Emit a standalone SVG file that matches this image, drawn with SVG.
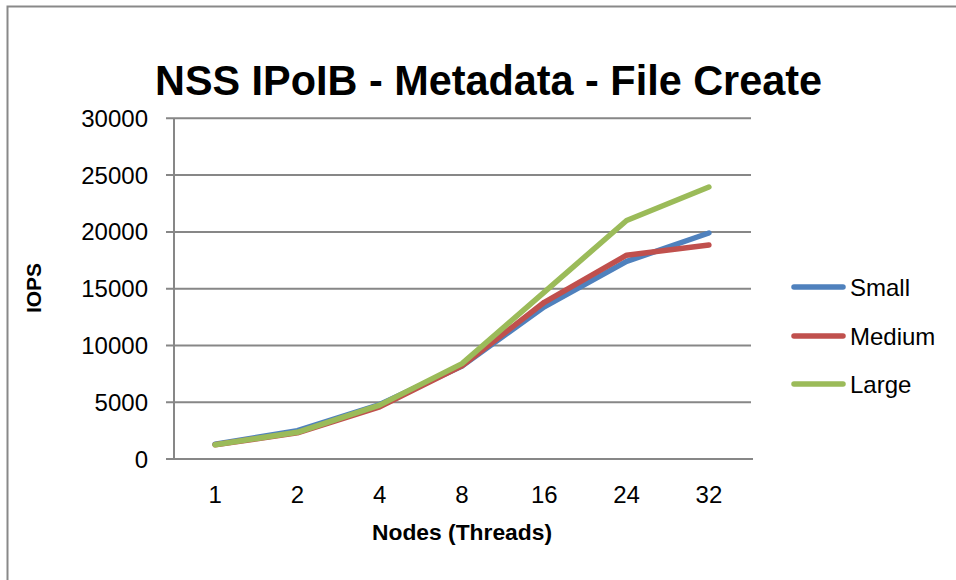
<svg xmlns="http://www.w3.org/2000/svg" width="956" height="580" viewBox="0 0 956 580">
<style>
.grid{stroke:#878787;stroke-width:2;fill:none}
.lbl{font-family:"Liberation Sans",Arial,sans-serif;font-size:24px;fill:#000}
.ttl{font-family:"Liberation Sans",Arial,sans-serif;font-weight:bold;fill:#000}
.ser{fill:none;stroke-width:5.5;stroke-linecap:round;stroke-linejoin:round}
</style>
<rect x="0" y="0" width="956" height="580" fill="#fff"/>
<path d="M7.5 580 V6.5 H956" fill="none" stroke="#898989" stroke-width="2"/>
<g id="title"><text class="ttl" x="488.5" y="95" font-size="42" text-anchor="middle" textLength="667" lengthAdjust="spacingAndGlyphs">NSS IPoIB - Metadata - File Create</text></g>
<g id="axes">
<path class="grid" d="M166 118.3H751M166 175.1H751M166 231.9H751M166 288.7H751M166 345.5H751M166 402.2H751M166 459H753M174 118.3V459"/>
<g class="lbl" text-anchor="end">
<text x="148" y="126.8">30000</text>
<text x="148" y="183.6">25000</text>
<text x="148" y="240.4">20000</text>
<text x="148" y="297.2">15000</text>
<text x="148" y="354">10000</text>
<text x="148" y="410.7">5000</text>
<text x="148" y="467.5">0</text>
</g>
<g class="lbl" text-anchor="middle">
<text x="215.1" y="503">1</text>
<text x="297.4" y="503">2</text>
<text x="379.7" y="503">4</text>
<text x="462" y="503">8</text>
<text x="544.3" y="503">16</text>
<text x="626.6" y="503">24</text>
<text x="708.9" y="503">32</text>
</g>
<text class="ttl" x="462" y="540" font-size="22" text-anchor="middle" textLength="180" lengthAdjust="spacingAndGlyphs">Nodes (Threads)</text>
<text class="ttl" transform="translate(41 288) rotate(-90)" x="0" y="0" font-size="21" text-anchor="middle" textLength="50" lengthAdjust="spacingAndGlyphs">IOPS</text>
</g>
<g id="series">
<polyline id="small" class="ser" stroke="#4F81BD" points="215.1,444.2 297.4,430.6 379.7,404.5 462,365.9 544.3,306.8 626.6,261.4 708.9,233"/>
<polyline id="medium" class="ser" stroke="#C0504D" points="215.1,444.8 297.4,432.9 379.7,406.8 462,365.9 544.3,302.3 626.6,255.2 708.9,244.9"/>
<polyline id="large" class="ser" stroke="#9BBB59" points="215.1,444.8 297.4,432.3 379.7,405.1 462,363.6 544.3,292.1 626.6,220.5 708.9,187"/>
</g>
<g id="legend">
<line class="ser" stroke="#4F81BD" x1="794" y1="287" x2="843" y2="287"/>
<line class="ser" stroke="#C0504D" x1="794" y1="336" x2="843" y2="336"/>
<line class="ser" stroke="#9BBB59" x1="794" y1="384" x2="843" y2="384"/>
<text class="lbl" x="850" y="295.5">Small</text>
<text class="lbl" x="850" y="344.5">Medium</text>
<text class="lbl" x="850" y="392.5">Large</text>
</g>
</svg>
